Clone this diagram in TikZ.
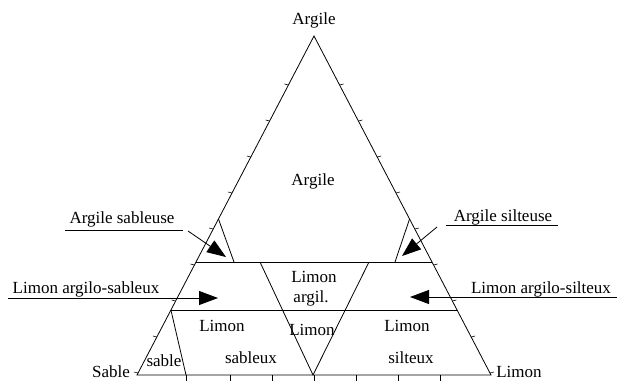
\documentclass[tikz,border=0pt]{standalone}
\usepackage{fontspec}
\setmainfont{Liberation Serif}
\usetikzlibrary{arrows.meta,calc}
\begin{document}
\begin{tikzpicture}[x=1pt,y=-1pt, line width=0.8pt,
  lbl/.style={anchor=base, inner sep=0pt, font=\rmfamily\fontsize{17}{19}\selectfont},
  tk/.style={line width=0.6pt},
  arr/.style={-{Triangle[length=19pt,width=14pt]}}]
\useasboundingbox (0,0) rectangle (617,381);
% triangle
\coordinate (A) at (314,36);
\coordinate (B) at (137,375);
\coordinate (C) at (491,375);
\draw (B) -- (A) -- (C) -- cycle;
% horizontal class limits
\coordinate (U1) at ($(A)!0.6667!(B)$);
\coordinate (U2) at ($(A)!0.6667!(C)$);
\coordinate (L1) at ($(A)!0.8083!(B)$);
\coordinate (L2) at ($(A)!0.8083!(C)$);
\draw (U1) -- (U2);
\draw (L1) -- (L2);
% argile sableuse / silteuse
\coordinate (S1) at ($(A)!0.5398!(B)$);
\coordinate (S2) at (234,262);
\coordinate (T1) at ($(A)!0.5398!(C)$);
\coordinate (T2) at (395,262);
\draw (S1) -- (S2);
\draw (T1) -- (T2);
% V
\coordinate (V1) at (260,262);
\coordinate (V2) at (369,262);
\coordinate (V0) at (313,375);
\draw (V1) -- (V0) -- (V2);
% sable
\coordinate (SB) at (186,375);
\draw (L1) -- (SB);
% ticks on edges
\foreach \y in {85,121,157,193,229,265,301,337,373}{
  \draw[tk] ({314-(\y-36)*0.52212},\y) -- ++(-4,-1);
  \draw[tk] ({314+(\y-36)*0.52212},\y) -- ++(4,-1);
}
\foreach \x in {186,230,272,314,356,398,440}{
  \draw[tk] (\x,375) -- (\x,381);
}
% labels
\node[lbl] (tA) at (314,24) {Argile};
\node[lbl] (zA) at (313,185) {Argile};
\node[lbl] (zLa) at (314,282) {Limon};
\node[lbl] (zLb) at (311,302) {argil.};
\node[lbl] (zLm) at (312,335) {Limon};
\node[lbl] (zLs1) at (222,331) {Limon};
\node[lbl] (zLs2) at (251,363) {sableux};
\node[lbl] (zLt1) at (407,331) {Limon};
\node[lbl] (zLt2) at (411,363) {silteux};
\node[lbl] (zS) at (164,366) {sable};
\node[lbl] (cS) at (111,377) {Sable};
\node[lbl] (cL) at (519,377) {Limon};
% callouts
\node[lbl] (as) at (122,223) {Argile sableuse};
\node[lbl] (at) at (503,221) {Argile silteuse};
\node[lbl] (las) at (86,293) {Limon argilo-sableux};
\node[lbl] (lat) at (541,293) {Limon argilo-silteux};
\coordinate (asu1) at (65,230);
\coordinate (asu2) at (183,230);
\coordinate (asa) at (188,231);
\coordinate (ast) at (226,257);
\draw (asu1) -- (asu2);
\draw[arr] (asa) -- (ast);
\coordinate (atu1) at (446,225);
\coordinate (atu2) at (558,225);
\coordinate (ata) at (437,227);
\coordinate (att) at (402,256);
\draw (atu1) -- (atu2);
\draw[arr] (ata) -- (att);
\coordinate (lasa) at (8,298);
\coordinate (last) at (218,298);
\draw[arr] (lasa) -- (last);
\coordinate (lata) at (617,297);
\coordinate (latt) at (410,297);
\draw[arr] (lata) -- (latt);
\end{tikzpicture}
\end{document}
